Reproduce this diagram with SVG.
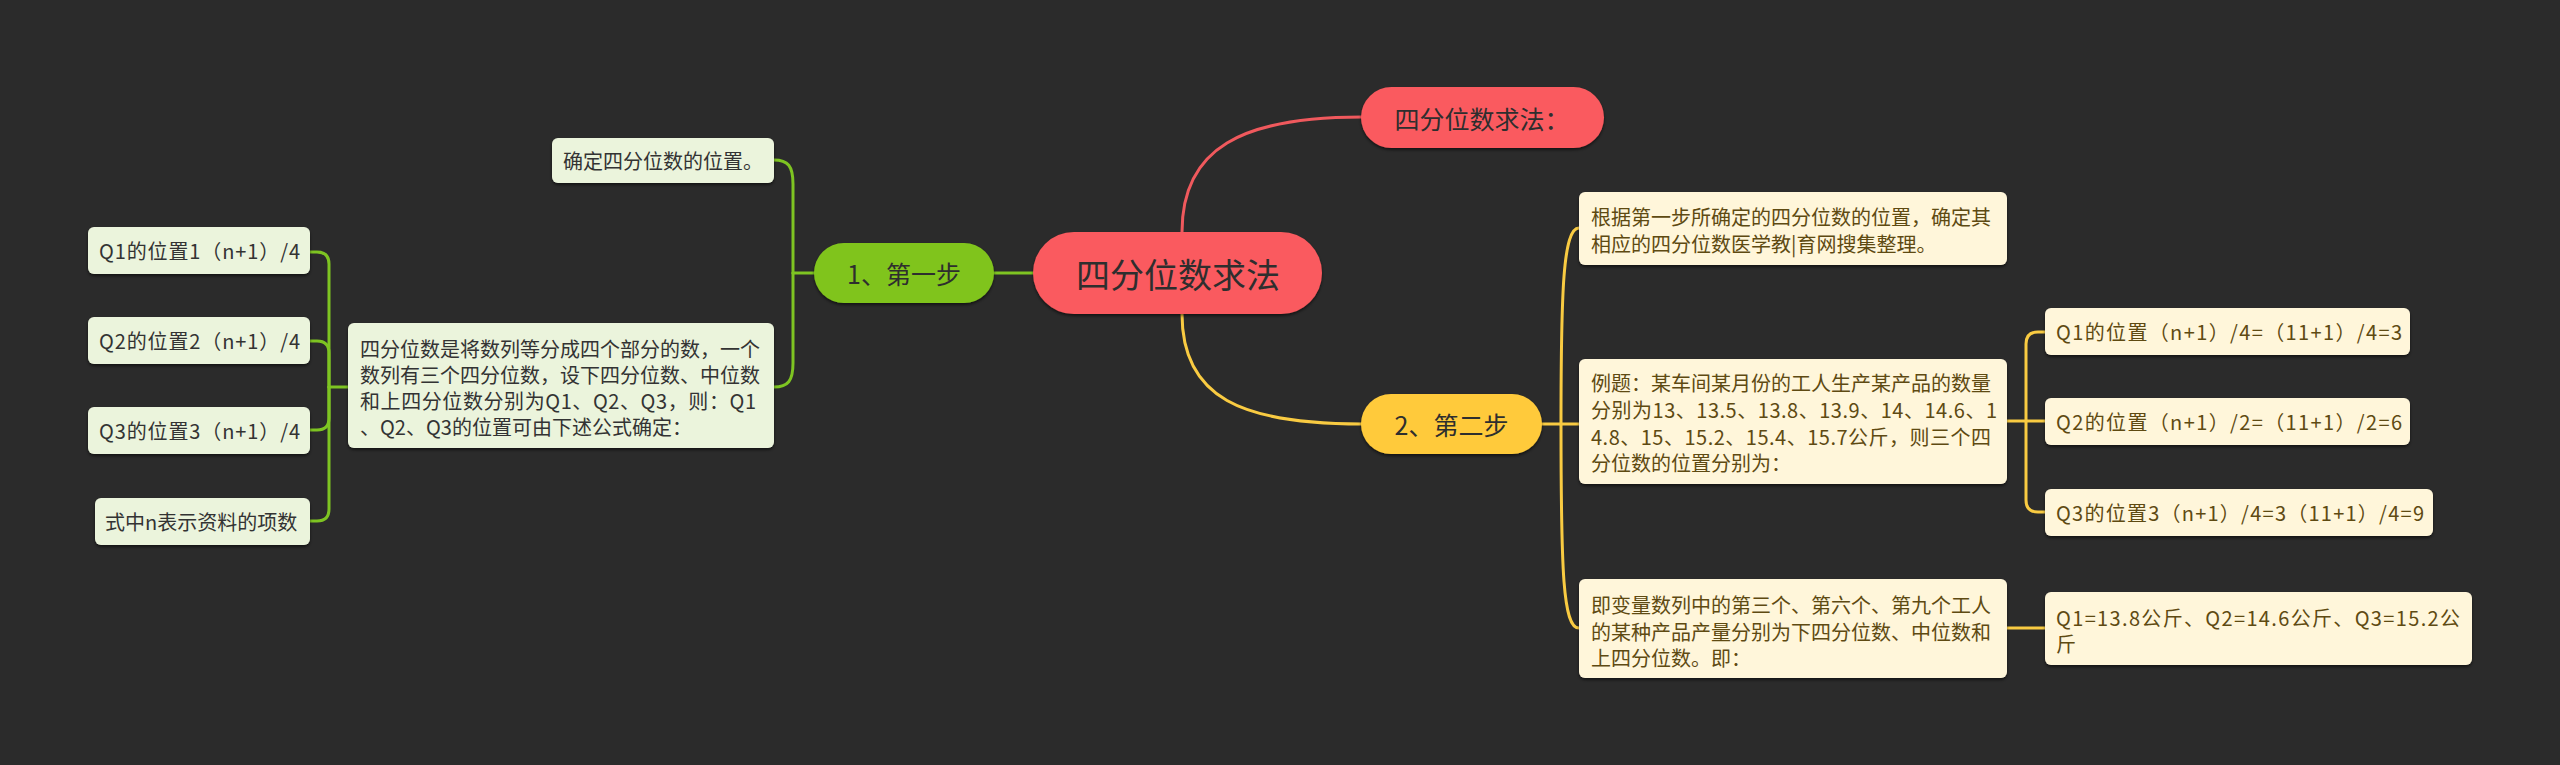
<svg xmlns="http://www.w3.org/2000/svg" width="2560" height="765" viewBox="0 0 2560 765">
<defs>
<filter id="sh" x="-10%" y="-20%" width="120%" height="150%">
<feDropShadow dx="0" dy="2" stdDeviation="1.5" flood-color="#000" flood-opacity="0.55"/>
</filter>
<style>
text{font-family:"Noto Sans CJK SC","Noto Sans",sans-serif;dominant-baseline:central}
.root{fill:#fa5a5e;filter:url(#sh)}
.green{fill:#80c41e;filter:url(#sh)}
.yellow{fill:#ffca3b;filter:url(#sh)}
.lleaf{fill:#ebf4dc;filter:url(#sh)}
.rleaf{fill:#fff6da;filter:url(#sh)}
.t-root{font-size:34px;fill:#2e2e2e;text-anchor:middle}
.t-main{font-size:25px;fill:#2e2e2e;text-anchor:middle}
.t-l{font-size:20px;fill:#333}
.t-r{font-size:20px;fill:#5e4a12}
.c{fill:none;stroke-width:3;stroke-linecap:round}
.cr{stroke:#f0595d}
.cg{stroke:#7ec422}
.cy{stroke:#f9cb42}
</style>
</defs>
<rect x="0" y="0" width="2560" height="765" fill="#2b2b2b"/>

<g id="connectors">
<path class="c cr" d="M1182,232 C1182,148 1242,117 1362,117"/>
<path class="c cy" d="M1182,314 C1182,398 1242,424 1362,424"/>
<path class="c cg" d="M1033,273 H994"/>
<path class="c cg" d="M814,273 H793"/>
<path class="c cg" d="M793,273 V184 C793,166 788,160 774,160"/>
<path class="c cg" d="M793,273 V363 C793,381 788,387 774,387"/>
<path class="c cg" d="M348,387 H329"/>
<path class="c cg" d="M329,387 V264 Q329,252 317,252 H310"/>
<path class="c cg" d="M329,387 V353 Q329,341 317,341 H310"/>
<path class="c cg" d="M329,387 V418 Q329,430 317,430 H310"/>
<path class="c cg" d="M329,387 V509 Q329,521 317,521 H310"/>
<path class="c cy" d="M1542,424 H1561"/>
<path class="c cy" d="M1561,424 C1561,292 1563,228 1579,228"/>
<path class="c cy" d="M1561,424 H1579"/>
<path class="c cy" d="M1561,424 C1561,572 1563,628 1579,628"/>
<path class="c cy" d="M2007,421 H2045"/>
<path class="c cy" d="M2026,421 V344 Q2026,332 2038,332 H2045"/>
<path class="c cy" d="M2026,421 V500 Q2026,512 2038,512 H2045"/>
<path class="c cy" d="M2007,628 H2045"/>
</g>

<g id="root">
<rect class="root" x="1033" y="232" width="289" height="82" rx="41"/>
<text class="t-root" x="1178" y="273">四分位数求法</text>
</g>
<g id="method">
<rect class="root" x="1361" y="87" width="243" height="61" rx="30.5"/>
<text class="t-main" x="1482" y="117.5">四分位数求法：</text>
</g>
<g id="step1">
<rect class="green" x="814" y="243" width="180" height="60" rx="30"/>
<text class="t-main" x="904" y="273">1、第一步</text>
</g>
<g id="step2">
<rect class="yellow" x="1361" y="394" width="181" height="60" rx="30"/>
<text class="t-main" x="1451.5" y="424">2、第二步</text>
</g>

<g id="s1-locate">
<rect class="lleaf" x="552" y="138" width="222" height="45" rx="6"/>
<text class="t-l" x="563" y="160.5">确定四分位数的位置。</text>
</g>
<g id="s1-desc">
<rect class="lleaf" x="348" y="323" width="426" height="125" rx="6"/>
<text class="t-l" x="360" y="348">四分位数是将数列等分成四个部分的数，一个</text>
<text class="t-l" x="360" y="374">数列有三个四分位数，设下四分位数、中位数</text>
<text class="t-l" x="360" y="400" textLength="396" lengthAdjust="spacing">和上四分位数分别为Q1、Q2、Q3，则：Q1</text>
<text class="t-l" x="360" y="426">、Q2、Q3的位置可由下述公式确定：</text>
</g>
<g id="s1-q1">
<rect class="lleaf" x="88" y="227" width="222" height="47" rx="6"/>
<text class="t-l" x="99" y="250.5" textLength="201" lengthAdjust="spacing">Q1的位置1（n+1）/4</text>
</g>
<g id="s1-q2">
<rect class="lleaf" x="88" y="317" width="222" height="47" rx="6"/>
<text class="t-l" x="99" y="340.5" textLength="201" lengthAdjust="spacing">Q2的位置2（n+1）/4</text>
</g>
<g id="s1-q3">
<rect class="lleaf" x="88" y="407" width="222" height="47" rx="6"/>
<text class="t-l" x="99" y="430.5" textLength="201" lengthAdjust="spacing">Q3的位置3（n+1）/4</text>
</g>
<g id="s1-n">
<rect class="lleaf" x="95" y="498" width="215" height="47" rx="6"/>
<text class="t-l" x="105" y="521.5">式中n表示资料的项数</text>
</g>

<g id="s2-basis">
<rect class="rleaf" x="1579" y="192" width="428" height="73" rx="6"/>
<text class="t-r" x="1591" y="216">根据第一步所确定的四分位数的位置，确定其</text>
<text class="t-r" x="1591" y="243">相应的四分位数医学教|育网搜集整理。</text>
</g>
<g id="s2-example">
<rect class="rleaf" x="1579" y="359" width="428" height="125" rx="6"/>
<text class="t-r" x="1591" y="382">例题：某车间某月份的工人生产某产品的数量</text>
<text class="t-r" x="1591" y="409" textLength="406" lengthAdjust="spacing">分别为13、13.5、13.8、13.9、14、14.6、1</text>
<text class="t-r" x="1591" y="436" textLength="400" lengthAdjust="spacing">4.8、15、15.2、15.4、15.7公斤，则三个四</text>
<text class="t-r" x="1591" y="462">分位数的位置分别为：</text>
</g>
<g id="s2-result">
<rect class="rleaf" x="1579" y="579" width="428" height="99" rx="6"/>
<text class="t-r" x="1591" y="604">即变量数列中的第三个、第六个、第九个工人</text>
<text class="t-r" x="1591" y="631">的某种产品产量分别为下四分位数、中位数和</text>
<text class="t-r" x="1591" y="657">上四分位数。即：</text>
</g>
<g id="s2-q1">
<rect class="rleaf" x="2045" y="308" width="365" height="47" rx="6"/>
<text class="t-r" x="2056" y="331.5" textLength="346" lengthAdjust="spacing">Q1的位置（n+1）/4=（11+1）/4=3</text>
</g>
<g id="s2-q2">
<rect class="rleaf" x="2045" y="398" width="365" height="47" rx="6"/>
<text class="t-r" x="2056" y="421.5" textLength="346" lengthAdjust="spacing">Q2的位置（n+1）/2=（11+1）/2=6</text>
</g>
<g id="s2-q3">
<rect class="rleaf" x="2045" y="489" width="388" height="47" rx="6"/>
<text class="t-r" x="2056" y="512.5" textLength="368" lengthAdjust="spacing">Q3的位置3（n+1）/4=3（11+1）/4=9</text>
</g>
<g id="s2-values">
<rect class="rleaf" x="2045" y="592" width="427" height="73" rx="6"/>
<text class="t-r" x="2056" y="617" textLength="404" lengthAdjust="spacing">Q1=13.8公斤、Q2=14.6公斤、Q3=15.2公</text>
<text class="t-r" x="2056" y="643">斤</text>
</g>
</svg>
